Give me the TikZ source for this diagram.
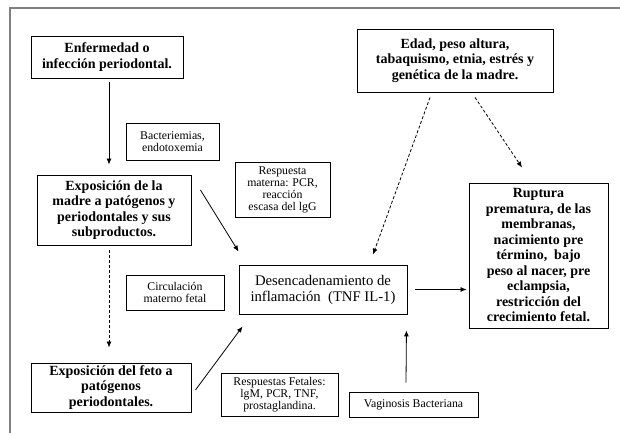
\documentclass[tikz,border=0pt]{standalone}
\usepackage{fontspec}
\setmainfont{Liberation Serif}
\usetikzlibrary{arrows.meta}
\tikzset{
  box/.style={draw=black, line width=0.9pt, inner sep=0pt, align=center, fill=white},
  bigbox/.style={box, font=\bfseries\fontsize{14}{15.5}\selectfont},
  smallbox/.style={box, font=\fontsize{11.8}{12}\selectfont},
  midbox/.style={box, font=\fontsize{14.7}{16}\selectfont},
  arr/.style={line width=0.8pt, -{Latex[length=6pt,width=5pt]}},
  darr/.style={arr, dash pattern=on 3pt off 2pt},
}
\begin{document}
\begin{tikzpicture}[x=1pt,y=-1pt]
\useasboundingbox (0,0) rectangle (620,435);
\draw[line width=2pt, gray] (10,433) -- (10,8) -- (620,8);

\node[bigbox, minimum width=152, minimum height=42] (b1) at (107,57) {Enfermedad o\\infección periodontal.};
\node[smallbox, minimum width=93, minimum height=37] (bact) at (172.5,141.5) {Bacteriemias,\\endotoxemia};
\node[bigbox, minimum width=154, minimum height=70] (b3) at (114,210) {Exposición de la\\madre a patógenos y\\periodontales y sus\\subproductos.};
\node[smallbox, minimum width=95, minimum height=55] (resp) at (282.5,189.5) {Respuesta\\materna: PCR,\\reacción\\escasa del lgG};
\node[bigbox, minimum width=196, minimum height=63] (edad) at (455,60.5) {Edad, peso altura,\\tabaquismo, etnia, estrés y\\genética de la madre.};
\node[bigbox, minimum width=139, minimum height=145] (rupt) at (538.5,255.5) {Ruptura\\prematura, de las\\membranas,\\nacimiento pre\\término,\ \ bajo\\peso al nacer, pre\\eclampsia,\\restricción del\\crecimiento fetal.};
\node[midbox, minimum width=168, minimum height=49] (des) at (323,289.5) {Desencadenamiento de\\inflamación\ \ (TNF IL-1)};
\node[smallbox, minimum width=98, minimum height=35] (circ) at (175,292.5) {Circulación\\materno fetal};
\node[bigbox, minimum width=160, minimum height=49] (feto) at (111,387.5) {Exposición del feto a\\patógenos\\periodontales.};
\node[smallbox, minimum width=117, minimum height=43] (respf) at (279.5,394.5) {Respuestas Fetales:\\lgM, PCR, TNF,\\prostaglandina.};
\node[smallbox, minimum width=129, minimum height=25] (vag) at (413.5,404.5) {Vaginosis Bacteriana};

\draw[arr] ([shift={(2,4)}]b1.south) -- ([shift={(-5,-10)}]b3.north);
\draw[arr] ([shift={(9,-20)}]b3.east) -- ([shift={(0,-13)}]des.north west);
\draw[darr] ([shift={(-5,5)}]b3.south) -- ([shift={(-2,-15)}]feto.north);
\draw[arr] ([shift={(4,2.5)}]feto.east) -- ([shift={(4,12)}]des.south west);
\draw[darr] ([shift={(-25,5)}]edad.south) -- ([shift={(50,-10)}]des.north);
\draw[darr] ([shift={(20,5)}]edad.south) -- ([shift={(-16.5,-15)}]rupt.north);
\draw[arr] ([xshift=8pt]des.east) -- ([xshift=-2pt]des.east -| rupt.west);
\draw[arr] ([shift={(-7.5,-9)}]vag.north) -- ([shift={(-1,16)}]des.south east);
\end{tikzpicture}
\end{document}
